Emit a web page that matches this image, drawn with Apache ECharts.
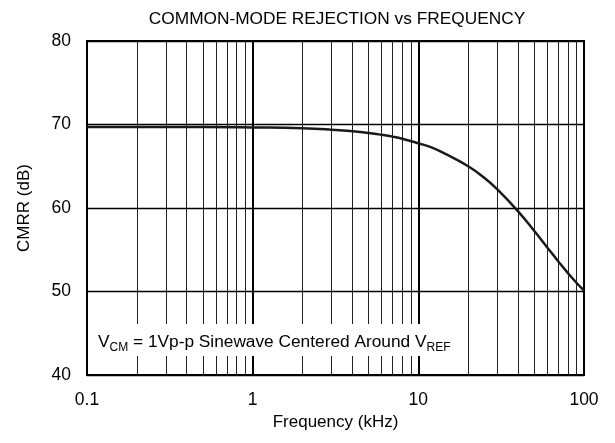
<!DOCTYPE html>
<html>
<head>
<meta charset="utf-8">
<script src="https://cdn.jsdelivr.net/npm/echarts@6/dist/echarts.min.js"></script>
<style>html,body{margin:0;padding:0;background:#fff}#c{width:615px;height:443px}</style>
</head>
<body>
<div id="c"></div>
<script>
const freqKHz = [0.1, 0.2, 0.5, 1, 2, 3, 4, 5, 6, 7, 8, 10, 12, 15, 20, 25, 30, 40, 50, 60, 70, 80, 90, 100];
const cmrrDB  = [69.7, 69.7, 69.7, 69.65, 69.55, 69.38, 69.18, 68.98, 68.77, 68.55, 68.3, 67.75, 67.25, 66.35, 65.0, 63.62, 62.22, 59.6, 57.27, 55.28, 53.6, 52.2, 51.05, 50.12];
const xTickLabels = ['0.1', '1', '10', '100'];
const yTicks = [40, 50, 60, 70, 80];
const minorGrid = [0.2,0.3,0.4,0.5,0.6,0.7,0.8,0.9, 2,3,4,5,6,7,8,9, 20,30,40,50,60,70,80,90];

const chart = echarts.init(document.getElementById('c'), null, {renderer: 'canvas'});
const font = 'Liberation Sans, Arial, sans-serif';
chart.setOption({
  animation: false,
  backgroundColor: '#fff',
  title: {
    text: 'COMMON-MODE REJECTION vs FREQUENCY',
    left: 332, top: 6, textAlign: 'center',
    textStyle: {fontFamily: font, fontSize: 17.3, fontWeight: 'normal', color: '#000'}
  },
  grid: {left: 87, right: 31, top: 41, bottom: 68, show: true, borderColor: '#000', borderWidth: 2, backgroundColor: 'transparent'},
  xAxis: {
    type: 'log', logBase: 10, min: 0.1, max: 100,
    name: 'Frequency (kHz)', nameLocation: 'middle', nameGap: 31,
    nameTextStyle: {fontFamily: font, fontSize: 17, color: '#000'},
    axisLine: {show: false}, axisTick: {show: false},
    axisLabel: {fontFamily: font, fontSize: 17.5, color: '#000', margin: 16,
      formatter: v => { const s = String(+v.toPrecision(3)); return xTickLabels.includes(s) ? s : ''; }},
    splitLine: {show: true, lineStyle: {color: '#000', width: 2}}
  },
  yAxis: {
    type: 'value', min: 40, max: 80, interval: 10,
    name: 'CMRR (dB)', nameLocation: 'middle', nameGap: 54,
    nameTextStyle: {fontFamily: font, fontSize: 17, color: '#000'},
    axisLine: {show: false}, axisTick: {show: false},
    axisLabel: {fontFamily: font, fontSize: 17.5, color: '#000', margin: 16,
      formatter: v => yTicks.includes(v) ? String(v) : ''},
    splitLine: {show: true, lineStyle: {color: '#000', width: 1.3}}
  },
  series: [{
    type: 'line',
    data: freqKHz.map((f, i) => [f, cmrrDB[i]]),
    smooth: 0.5,
    symbol: 'none',
    lineStyle: {color: '#1a1a1a', width: 2.5},
    z: 5,
    markLine: {
      silent: true, symbol: 'none', label: {show: false},
      lineStyle: {color: '#222', width: 1, type: 'solid'},
      data: minorGrid.map(v => ({xAxis: v}))
    }
  }],
  graphic: [{
    type: 'text', left: 92, top: 324, z: 100,
    style: {
      text: '{n|V}{s|CM}{n| = 1Vp-p Sinewave Centered Around V}{s|REF}',
      backgroundColor: '#fff',
      padding: [5, 8, 5, 6],
      rich: {
        n: {fontFamily: font, fontSize: 17.3, fill: '#000', verticalAlign: 'bottom', lineHeight: 22},
        s: {fontFamily: font, fontSize: 12, fill: '#000', verticalAlign: 'bottom', lineHeight: 16, padding: [0,0,-3,0]}
      }
    }
  }]
});
</script>
</body>
</html>
